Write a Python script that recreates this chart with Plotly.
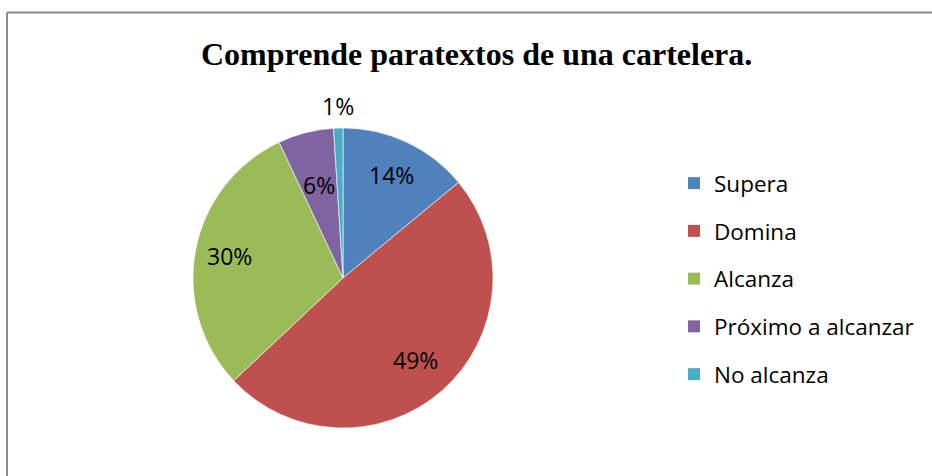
import math
import plotly.graph_objects as go

categories = ["Supera", "Domina", "Alcanza", "Próximo a alcanzar", "No alcanza"]
values = [14, 49, 30, 6, 1]
title_text = "Comprende paratextos de una cartelera."

# style
colors = ["#4F81BD", "#C0504D", "#9BBB59", "#8064A2", "#4BACC6"]
label_radius = [0.76, 0.73, 0.77, 0.64, 1.15]  # fraction of pie radius for each data label

W, H = 932, 476
cx, cy, r = 343, 278, 150
FONT = "Open Sans, Noto Sans, sans-serif"

fig = go.Figure()
fig.add_trace(go.Pie(
    labels=categories, values=values, sort=False, direction="clockwise", rotation=0,
    marker=dict(colors=colors, line=dict(color="white", width=0.6)),
    textinfo="none", showlegend=False, hoverinfo="label+percent",
    domain=dict(x=[(cx - r) / W, (cx + r) / W], y=[1 - (cy + r) / H, 1 - (cy - r) / H]),
))

for name, col in zip(categories, colors):
    fig.add_trace(go.Scatter(
        x=[None], y=[None], mode="markers", name=name, legendgroup=name,
        marker=dict(symbol="square", size=12, color=col),
    ))

# data labels placed from the slice mid-angles
total = sum(values)
annotations = []
cum = 0
for v, k in zip(values, label_radius):
    mid = (cum + v / 2) / total * 2 * math.pi
    cum += v
    px = cx + k * r * math.sin(mid)
    py = cy - k * r * math.cos(mid)
    annotations.append(dict(text=f"{round(100 * v / total)}%", x=px / W, y=1 - py / H,
                            xref="paper", yref="paper", xanchor="center", yanchor="middle",
                            showarrow=False, font=dict(family=FONT, size=23, color="black")))

annotations.append(dict(text="<b>" + title_text + "</b>", x=477 / W, y=1 - 53.5 / H,
                        xref="paper", yref="paper", xanchor="center", yanchor="middle",
                        showarrow=False,
                        font=dict(family="Liberation Serif, Times New Roman, serif", size=32, color="black")))

fig.update_layout(
    width=W, height=H,
    margin=dict(l=0, r=0, t=0, b=0),
    paper_bgcolor="white", plot_bgcolor="white",
    xaxis=dict(visible=False), yaxis=dict(visible=False),
    legend=dict(x=674 / W, y=1 - 162 / H, xanchor="left", yanchor="top",
                font=dict(family=FONT, size=22.5, color="black"),
                tracegroupgap=15.5, itemclick=False),
    annotations=annotations,
    shapes=[
        dict(type="line", xref="paper", yref="paper", x0=7 / W, x1=1.01, y0=1 - 12.5 / H, y1=1 - 12.5 / H,
             line=dict(color="#8a8a8a", width=2)),
        dict(type="line", xref="paper", yref="paper", x0=7 / W, x1=7 / W, y0=-0.01, y1=1 - 12.5 / H,
             line=dict(color="#8a8a8a", width=2)),
    ],
)

fig.write_html("out.html", config={"displayModeBar": False},
               post_script="document.body.style.margin='0';")
